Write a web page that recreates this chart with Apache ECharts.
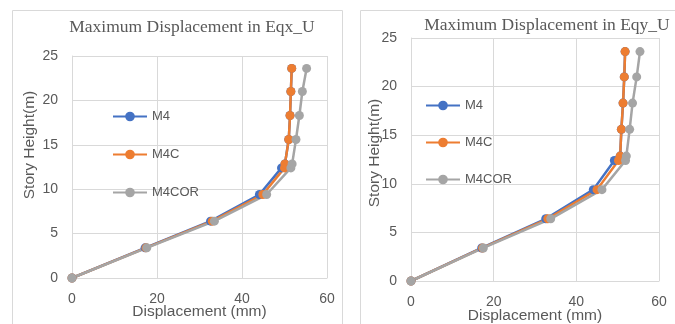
<!DOCTYPE html>
<html><head><meta charset="utf-8">
<script src="https://cdn.jsdelivr.net/npm/echarts@6/dist/echarts.min.js"></script>
<style>html,body{margin:0;padding:0;background:#fff}#c{width:675px;height:324px}</style>
</head><body><div id="c"></div>
<script>
const heights = [0, 3.4, 6.4, 9.4, 12.4, 12.85, 15.6, 18.3, 21.0, 23.6];
const seriesNames = ['M4', 'M4C', 'M4COR'];
const eqxM4 = [0, 17.2, 32.6, 44.1, 49.3, 50.1, 51.0, 51.3, 51.5, 51.7];
const eqxM4C = [0, 17.4, 33.0, 44.9, 50.0, 50.1, 51.0, 51.3, 51.5, 51.7];
const eqxM4COR = [0, 17.6, 33.5, 45.8, 51.5, 51.8, 52.7, 53.5, 54.2, 55.2];
const eqyM4 = [0, 17.1, 32.6, 44.1, 49.2, 50.6, 50.9, 51.3, 51.6, 51.8];
const eqyM4C = [0, 17.3, 33.1, 45.0, 50.2, 50.6, 50.9, 51.3, 51.6, 51.8];
const eqyM4COR = [0, 17.5, 33.8, 46.2, 51.9, 52.1, 52.9, 53.6, 54.6, 55.4];
const titles = ['Maximum Displacement in Eqx_U', 'Maximum Displacement in Eqy_U'];
const xTitle = 'Displacement (mm)';
const yTitle = 'Story Height(m)';
const xTicks = [0, 20, 40, 60];
const yTicks = [0, 5, 10, 15, 20, 25];

const colors = ['#4472C4', '#ED7D31', '#A5A5A5'];
const txt = '#595959';
const gridCol = '#d9d9d9';
const sans = 'Liberation Sans';

function pairs(xs) { return xs.map((v, i) => [v, heights[i]]); }

const chart = echarts.init(document.getElementById('c'), null, {renderer: 'canvas'});
const grids = [
  {left: 72, right: 348, top: 56, bottom: 46, containLabel: false, outerBoundsMode: 'none'},
  {left: 411, right: 16, top: 38, bottom: 43, containLabel: false, outerBoundsMode: 'none'}
];
const data = [[eqxM4, eqxM4C, eqxM4COR], [eqyM4, eqyM4C, eqyM4COR]];

const xAxes = grids.map((g, i) => ({
  type: 'value', gridIndex: i, min: xTicks[0], max: xTicks[xTicks.length - 1], interval: 20,
  name: xTitle, nameLocation: 'middle', nameGap: i === 0 ? 26 : 27, nameMoveOverlap: false,
  nameTextStyle: {fontFamily: sans, fontSize: 15.5, color: txt},
  axisLine: {show: true, lineStyle: {color: gridCol}},
  axisTick: {show: false},
  axisLabel: {fontFamily: sans, fontSize: 14, color: txt, margin: 14},
  splitLine: {show: true, lineStyle: {color: gridCol}}
}));
const yAxes = grids.map((g, i) => ({
  type: 'value', gridIndex: i, min: yTicks[0], max: yTicks[yTicks.length - 1], interval: 5,
  axisLine: {show: true, lineStyle: {color: gridCol}},
  axisTick: {show: false},
  axisLabel: {fontFamily: sans, fontSize: 14, color: txt, margin: 14},
  splitLine: {show: true, lineStyle: {color: gridCol}}
}));

const series = [];
data.forEach((set, gi) => {
  set.forEach((xs, si) => {
    series.push({
      type: 'line', name: seriesNames[si], xAxisIndex: gi, yAxisIndex: gi,
      data: pairs(xs), symbol: 'circle', symbolSize: 9,
      lineStyle: {color: colors[si], width: 2.5},
      itemStyle: {color: colors[si]},
      animation: false
    });
  });
});

chart.setOption({
  animation: false,
  color: colors,
  grid: grids,
  xAxis: xAxes,
  yAxis: yAxes,
  title: [
    {text: titles[0], left: 187, top: 13, textAlign: 'center',
     textStyle: {fontFamily: 'Liberation Serif', fontSize: 17.5, fontWeight: 'normal', color: txt}},
    {text: titles[1], left: 542, top: 11, textAlign: 'center',
     textStyle: {fontFamily: 'Liberation Serif', fontSize: 17.5, fontWeight: 'normal', color: txt}}
  ],
  legend: [
    {orient: 'vertical', left: 107, top: 105, itemWidth: 34, itemHeight: 12, itemGap: 25,
     data: seriesNames, textStyle: {fontFamily: sans, fontSize: 13, color: txt}, selectedMode: false},
    {orient: 'vertical', left: 420, top: 94, itemWidth: 34, itemHeight: 12, itemGap: 24,
     data: seriesNames, textStyle: {fontFamily: sans, fontSize: 13, color: txt}, selectedMode: false}
  ],
  graphic: [
    {type: 'rect', shape: {x: 12.5, y: 10.5, width: 330, height: 340}, style: {fill: 'none', stroke: gridCol, lineWidth: 1}, silent: true, z: -10},
    {type: 'rect', shape: {x: 360.5, y: 10.5, width: 330, height: 340}, style: {fill: 'none', stroke: gridCol, lineWidth: 1}, silent: true, z: -10},
    {type: 'text', x: 30, y: 145, rotation: Math.PI / 2,
     style: {text: yTitle, fontFamily: sans, fontSize: 15.5, fill: txt, textAlign: 'center', textVerticalAlign: 'middle'}},
    {type: 'text', x: 375, y: 153, rotation: Math.PI / 2,
     style: {text: yTitle, fontFamily: sans, fontSize: 15.5, fill: txt, textAlign: 'center', textVerticalAlign: 'middle'}}
  ],
  series: series
});
</script></body></html>
